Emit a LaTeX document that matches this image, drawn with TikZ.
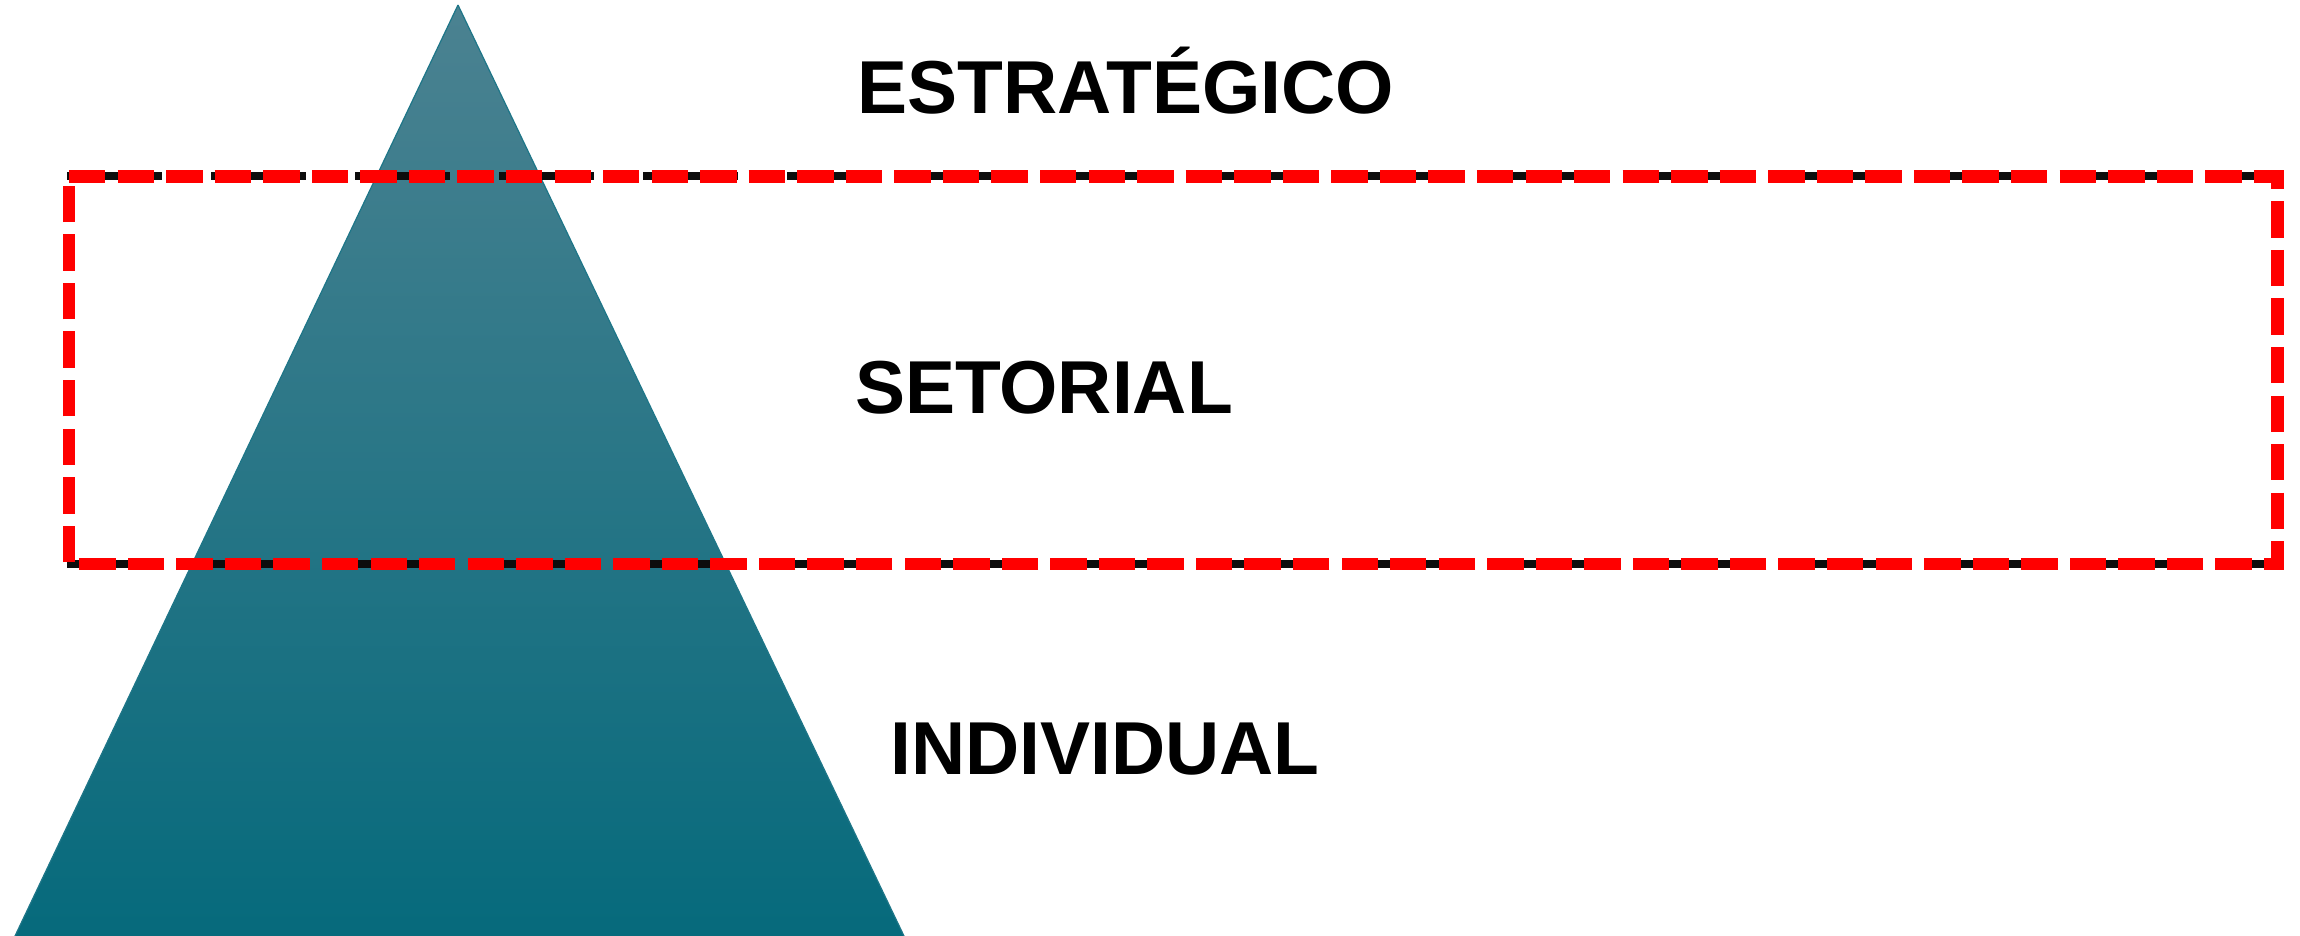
\documentclass[tikz,border=0pt]{standalone}
\usepackage{fontspec}
\setmainfont{Liberation Sans}
\definecolor{tealtop}{HTML}{4B8291}
\definecolor{tealmid}{HTML}{0C7388}
\definecolor{tealbot}{HTML}{066A7C}
\definecolor{tealedge}{HTML}{1E7688}
\definecolor{redline}{HTML}{FF0000}
\begin{document}
\begin{tikzpicture}[x=1pt,y=-1pt,
  levellabel/.style={inner sep=0pt,anchor=base,font=\fontsize{75}{90}\selectfont\bfseries},
  blackdash/.style={draw=black!95,line width=8pt,dash pattern=on 95pt off 49pt},
  reddash/.style={draw=redline,line width=12.2pt,dash pattern=on 36.4pt off 12.15pt}]
\useasboundingbox (0,0) rectangle (2300,936);
% pyramid
\shade[top color=tealtop,middle color=tealmid,bottom color=tealbot]
  (458,5) -- (904,936) -- (15,936) -- cycle;
\draw[tealedge,line width=1.2pt] (458,5) -- (904,936) (458,5) -- (15,936);
% black dashed lines
\draw[blackdash] (67,176.5) -- (2277.5,176.5);
\draw[blackdash] (67,564) -- (2277.5,564);
% red dashed frame
\draw[reddash] (69,176.5) -- (2277.5,176.5) -- (2277.5,564) -- (69,564) -- cycle;
% labels
\node[levellabel] (est) at (1126,114) {ESTRATÉGICO};
\node[levellabel] (set) at (1044,413) {SETORIAL};
\node[levellabel] (ind) at (1105,774) {INDIVIDUAL};
\end{tikzpicture}
\end{document}
